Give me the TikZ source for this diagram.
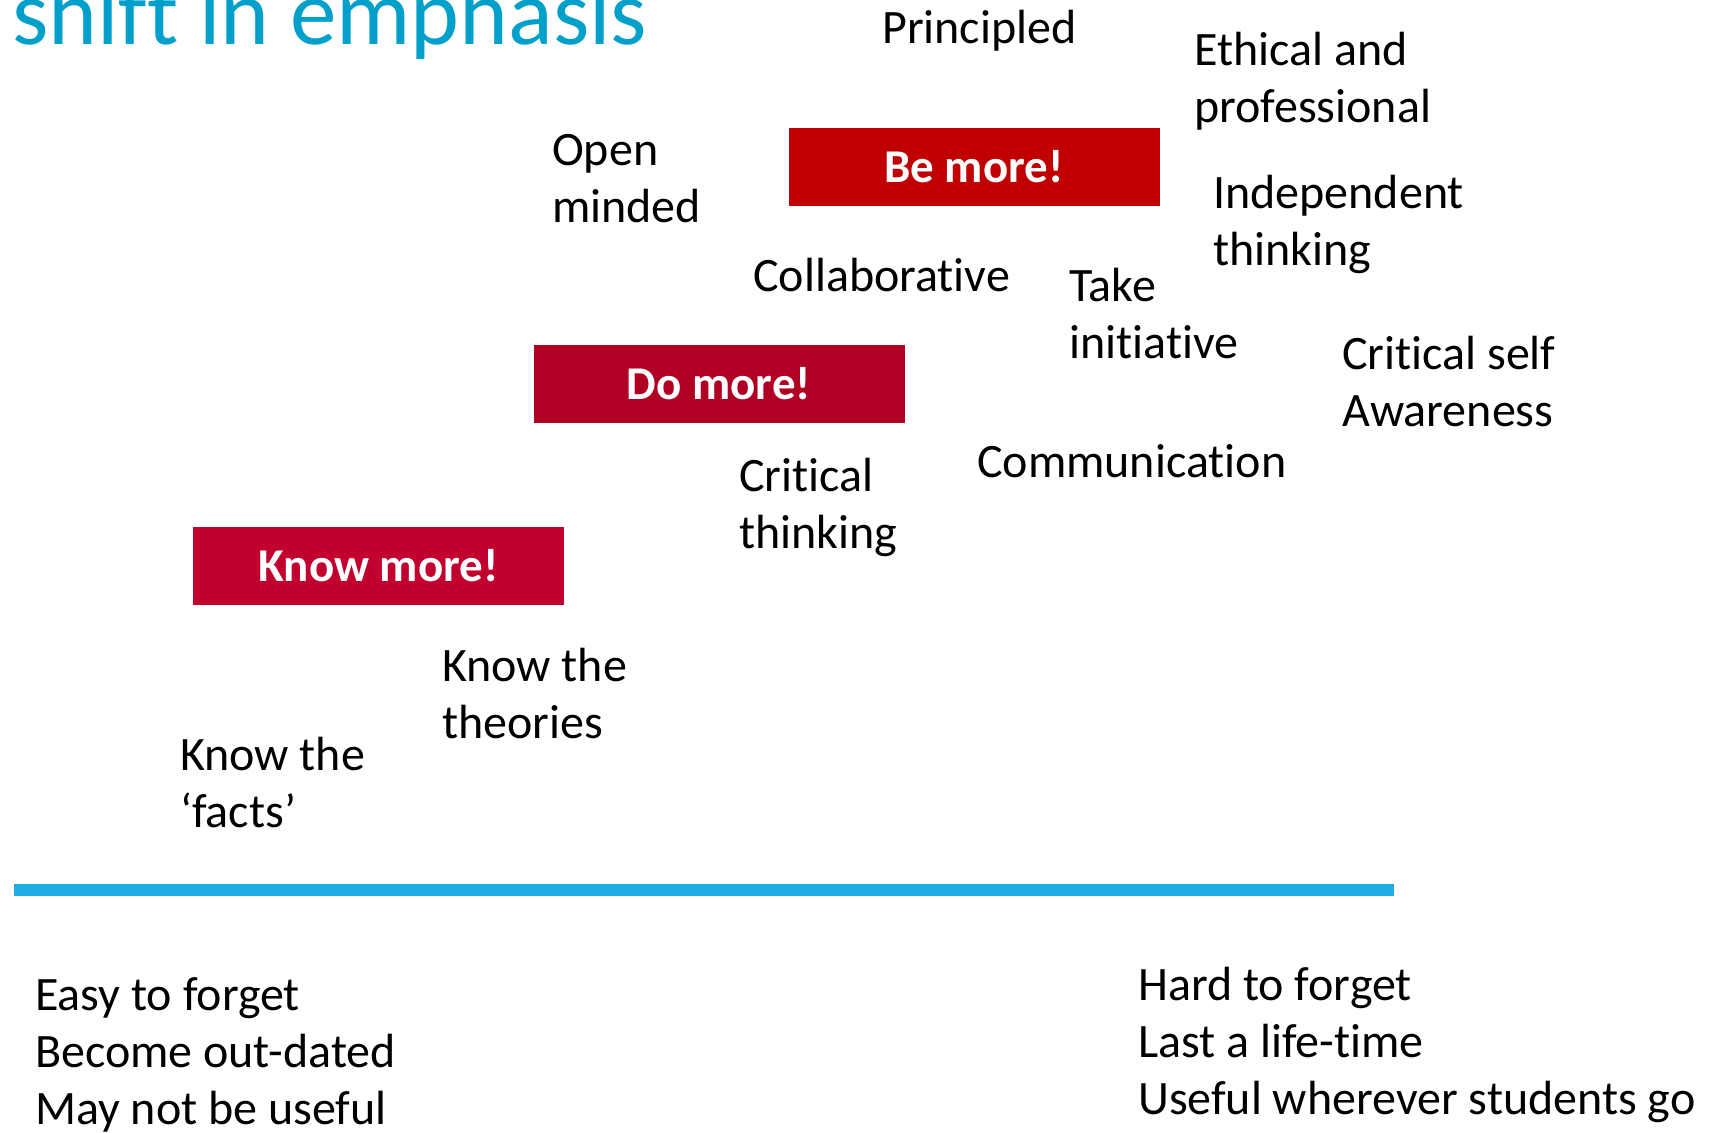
\documentclass[tikz,border=0pt]{standalone}
\usepackage{fontspec}
\setmainfont{Carlito}[Ligatures=NoCommon]
\definecolor{titleblue}{RGB}{0,160,202}
\definecolor{lineblue}{RGB}{30,172,226}
\definecolor{bered}{RGB}{192,0,0}
\definecolor{dored}{RGB}{176,0,36}
\definecolor{knowred}{RGB}{193,0,47}
\begin{document}
\begin{tikzpicture}[x=1pt,y=-1pt,
  txt/.style={anchor=base west, inner sep=0pt, align=left, font=\fontsize{48}{57}\selectfont},
  bigbox/.style={draw=none, inner sep=0pt, minimum width=371pt, minimum height=78pt, text=white, font=\fontsize{47}{57}\selectfont\bfseries},
  title/.style={anchor=base west, inner sep=0pt, text=titleblue, font=\fontsize{93}{110}\selectfont}]
\useasboundingbox[fill=white] (0,0) rectangle (1717,1133);
\clip (0,0) rectangle (1717,1133);
\node[title] (ttl) at (12,44) {shift in emphasis};
% boxes
\node[bigbox, fill=bered] (be) at (974,167) {Be more!};
\node[bigbox, fill=dored] (do) at (719,384) {Do more!};
\node[bigbox, fill=knowred] (know) at (378.5,566) {Know more!};
% words (anchor = baseline of the last line)
\node[txt] (principled) at (882,43) {Principled};
\node[txt] (ethical) at (1194,122) {Ethical and\\professional};
\node[txt] (open) at (552,222) {Open\\minded};
\node[txt] (indep) at (1213,265) {Independent\\thinking};
\node[txt] (collab) at (753,291) {Collaborative};
\node[txt] (take) at (1069,358) {Take\\initiative};
\node[txt] (selfaw) at (1342,426) {Critical self\\Awareness};
\node[txt] (comm) at (977,477) {Communication};
\node[txt] (critical) at (739,548) {Critical\\thinking};
\node[txt] (theories) at (442,738) {Know the\\theories};
\node[txt] (facts) at (180,827) {Know the\\‘facts’};
% divider
\coordinate (lineL) at (14,890);
\coordinate (lineR) at (1394,890);
\draw[lineblue, line width=12pt] (lineL) -- (lineR);
% bottom lists
\node[txt] (easy) at (35,1124) {Easy to forget\\Become out-dated\\May not be useful};
\node[txt] (hard) at (1138,1114) {Hard to forget\\Last a life-time\\Useful wherever students go};
\end{tikzpicture}
\end{document}
